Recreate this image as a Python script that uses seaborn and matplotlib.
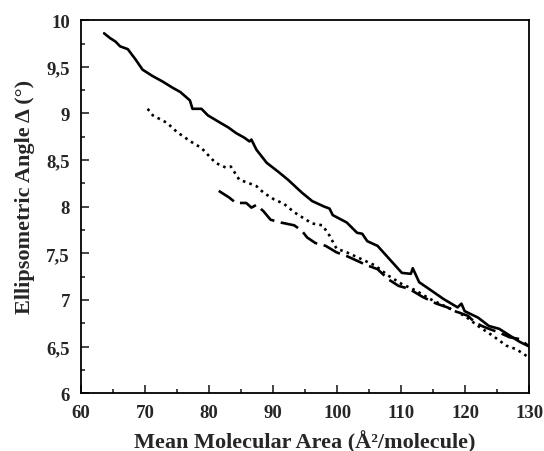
import numpy as np
import pandas as pd
import matplotlib
matplotlib.use('Agg')
import matplotlib.pyplot as plt
import seaborn as sns
from matplotlib.ticker import MultipleLocator, FuncFormatter

# solid curve
solid_x = [63.6, 64.5, 65.4, 66.1, 67.3, 68.5, 69.6, 71.2, 72.8, 74.2, 75.5, 77.0, 77.4, 78.8,
           79.8, 81.5, 83.0, 84.2, 85.5, 86.3, 86.6, 87.4, 89.0, 90.7, 92.3, 94.5, 96.1, 98.0,
           98.8, 99.3, 101.5, 103.1, 103.9, 104.7, 106.3, 108.0, 110.1, 111.5, 111.8, 112.8,
           114.5, 116.6, 118.8, 119.4, 119.9, 122.0, 123.7, 125.3, 126.9, 128.5, 130.0]
solid_y = [9.86, 9.81, 9.77, 9.72, 9.69, 9.58, 9.47, 9.40, 9.34, 9.28, 9.23, 9.14, 9.05, 9.05,
           8.98, 8.91, 8.85, 8.79, 8.74, 8.70, 8.72, 8.61, 8.47, 8.38, 8.29, 8.15, 8.06, 8.00,
           7.98, 7.91, 7.83, 7.72, 7.71, 7.63, 7.58, 7.45, 7.29, 7.28, 7.34, 7.19,
           7.11, 7.01, 6.92, 6.96, 6.88, 6.81, 6.72, 6.69, 6.62, 6.55, 6.50]

# dotted curve
dot_x = [70.4, 71.2, 73.4, 75.0, 77.1, 78.8, 81.0, 82.6, 83.4, 84.7, 86.3, 87.4, 88.5, 90.1,
         91.7, 93.3, 94.9, 96.1, 97.7, 98.8, 99.9, 101.5, 103.7, 105.9, 108.0, 110.1, 112.3,
         114.5, 117.2, 119.9, 122.0, 124.2, 126.4, 128.0, 130.0]
dot_y = [9.05, 8.98, 8.90, 8.80, 8.70, 8.63, 8.47, 8.42, 8.43, 8.29, 8.25, 8.22, 8.15, 8.08,
         8.03, 7.94, 7.87, 7.82, 7.80, 7.69, 7.55, 7.51, 7.44, 7.37, 7.26, 7.17, 7.10,
         7.01, 6.92, 6.83, 6.72, 6.62, 6.51, 6.47, 6.38]

# dashed curve
dash_x = [81.5, 83.1, 84.2, 85.8, 86.6, 87.4, 88.5, 89.6, 91.2, 93.3, 94.5, 95.3, 96.6, 98.2,
          99.9, 101.5, 103.1, 104.7, 106.3, 108.0, 109.6, 111.2, 113.4, 115.5, 117.2, 118.8,
          120.4, 121.5, 122.6, 123.7, 125.3, 126.9, 128.5, 130.0]
dash_y = [8.17, 8.10, 8.04, 8.04, 7.99, 8.02, 7.95, 7.86, 7.83, 7.80, 7.74, 7.67, 7.61, 7.58,
          7.51, 7.47, 7.42, 7.37, 7.33, 7.22, 7.15, 7.12, 7.03, 6.96, 6.92, 6.87,
          6.83, 6.76, 6.72, 6.69, 6.65, 6.60, 6.58, 6.50]

sns.set_style('white')
plt.rcParams['font.family'] = ['Liberation Serif', 'DejaVu Serif']
plt.rcParams['font.weight'] = 'bold'

fig = plt.figure(figsize=(5.44, 4.52), dpi=100)
ax = fig.add_axes([0.149, 0.128, 0.824, 0.825])

sns.lineplot(x=solid_x, y=solid_y, ax=ax, color='black', lw=1.9, sort=False)
sns.lineplot(x=dot_x, y=dot_y, ax=ax, color='black', lw=1.9, sort=False, linestyle=(0, (1, 1.6)))
sns.lineplot(x=dash_x, y=dash_y, ax=ax, color='black', lw=1.9, sort=False, linestyle=(0, (7, 2.5)))

ax.set_xlim(60, 130)
ax.set_ylim(6, 10)
ax.xaxis.set_major_locator(MultipleLocator(10))
ax.xaxis.set_minor_locator(MultipleLocator(5))
ax.yaxis.set_major_locator(MultipleLocator(0.5))
ax.yaxis.set_minor_locator(MultipleLocator(0.25))
ax.yaxis.set_major_formatter(FuncFormatter(lambda v, p: f"{v:g}".replace('.', ',')))
ax.tick_params(which='both', direction='in', bottom=True, left=True, top=False, right=False,
               width=1.2, labelsize=13.5)
ax.tick_params(which='major', length=5.5)
ax.tick_params(which='minor', length=3)
ax.tick_params(axis='x', which='major', pad=8)
ax.tick_params(axis='y', which='major', pad=8)
for s in ax.spines.values():
    s.set_color('black')
    s.set_linewidth(1.3)

ax.set_xlabel('Mean Molecular Area (Å²/molecule)', fontsize=16, fontweight='bold', labelpad=6)
ax.set_ylabel('Ellipsometric Angle Δ (°)', fontsize=16, fontweight='bold')
ax.yaxis.set_label_coords(-0.103, 0.528)

fig.savefig('out.png', dpi=100)
